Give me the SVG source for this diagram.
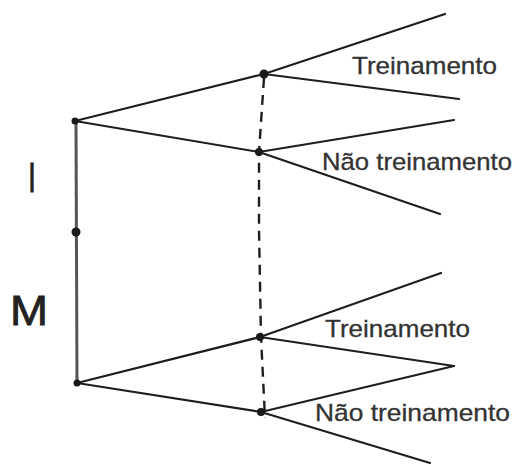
<svg xmlns="http://www.w3.org/2000/svg" width="519" height="466" viewBox="0 0 519 466">
  <style>
    .edge { stroke: #1e1e1e; stroke-width: 2.2; fill: none; stroke-linecap: round; }
    .trunk { stroke: #555; stroke-width: 3; fill: none; }
    .info { stroke: #1e1e1e; stroke-width: 2.4; fill: none; stroke-dasharray: 10 7; }
    .dot { fill: #1a1a1a; }
    .lbl { font-family: "Liberation Sans", Arial, sans-serif; font-size: 24px; fill: #333; stroke: #333; stroke-width: 0.3; }
    .big { font-family: "Liberation Sans", Arial, sans-serif; font-size: 42px; fill: #222; stroke: #222; stroke-width: 0.8; }
  </style>
  <rect width="519" height="466" fill="#fff"/>

  <!-- tree edges and the dashed information set -->
  <g id="connectors">
    <line class="trunk" x1="76" y1="121" x2="77" y2="383"/>
    <line class="edge" x1="75" y1="121" x2="264" y2="74"/>
    <line class="edge" x1="75" y1="121" x2="259" y2="152"/>
    <line class="edge" x1="264" y1="74" x2="445" y2="14"/>
    <line class="edge" x1="264" y1="74" x2="459" y2="99"/>
    <line class="edge" x1="259" y1="152" x2="454" y2="120"/>
    <line class="edge" x1="259" y1="152" x2="440" y2="214"/>
    <line class="edge" x1="77" y1="383" x2="260" y2="337"/>
    <line class="edge" x1="77" y1="383" x2="261" y2="412"/>
    <line class="edge" x1="260" y1="337" x2="441" y2="273"/>
    <line class="edge" x1="260" y1="337" x2="454" y2="366"/>
    <line class="edge" x1="261" y1="412" x2="454" y2="366"/>
    <line class="edge" x1="261" y1="412" x2="430" y2="463"/>
    <polyline class="info" points="264,78 259,152 259,230 261,337 265,418"/>
  </g>

  <g id="root">
    <circle class="dot" cx="75" cy="121" r="3.5"/>
  </g>
  <g id="chance">
    <circle class="dot" cx="76" cy="232" r="4.5"/>
    <text class="big" x="28" y="192" textLength="8" lengthAdjust="spacingAndGlyphs">I</text>
    <text class="big" x="10" y="325" textLength="38" lengthAdjust="spacingAndGlyphs">M</text>
  </g>
  <g id="bottom-root">
    <circle class="dot" cx="77" cy="383" r="3.5"/>
  </g>
  <g id="i-train">
    <circle class="dot" cx="264" cy="74" r="4.5"/>
    <text class="lbl" x="352" y="74" textLength="145" lengthAdjust="spacingAndGlyphs">Treinamento</text>
  </g>
  <g id="i-notrain">
    <circle class="dot" cx="259" cy="152" r="4"/>
    <text class="lbl" x="322" y="170" textLength="190" lengthAdjust="spacingAndGlyphs">Não treinamento</text>
  </g>
  <g id="m-train">
    <circle class="dot" cx="260" cy="337" r="4"/>
    <text class="lbl" x="325" y="337" textLength="145" lengthAdjust="spacingAndGlyphs">Treinamento</text>
  </g>
  <g id="m-notrain">
    <circle class="dot" cx="261" cy="412" r="4"/>
    <text class="lbl" x="315" y="421" textLength="195" lengthAdjust="spacingAndGlyphs">Não treinamento</text>
  </g>
</svg>
